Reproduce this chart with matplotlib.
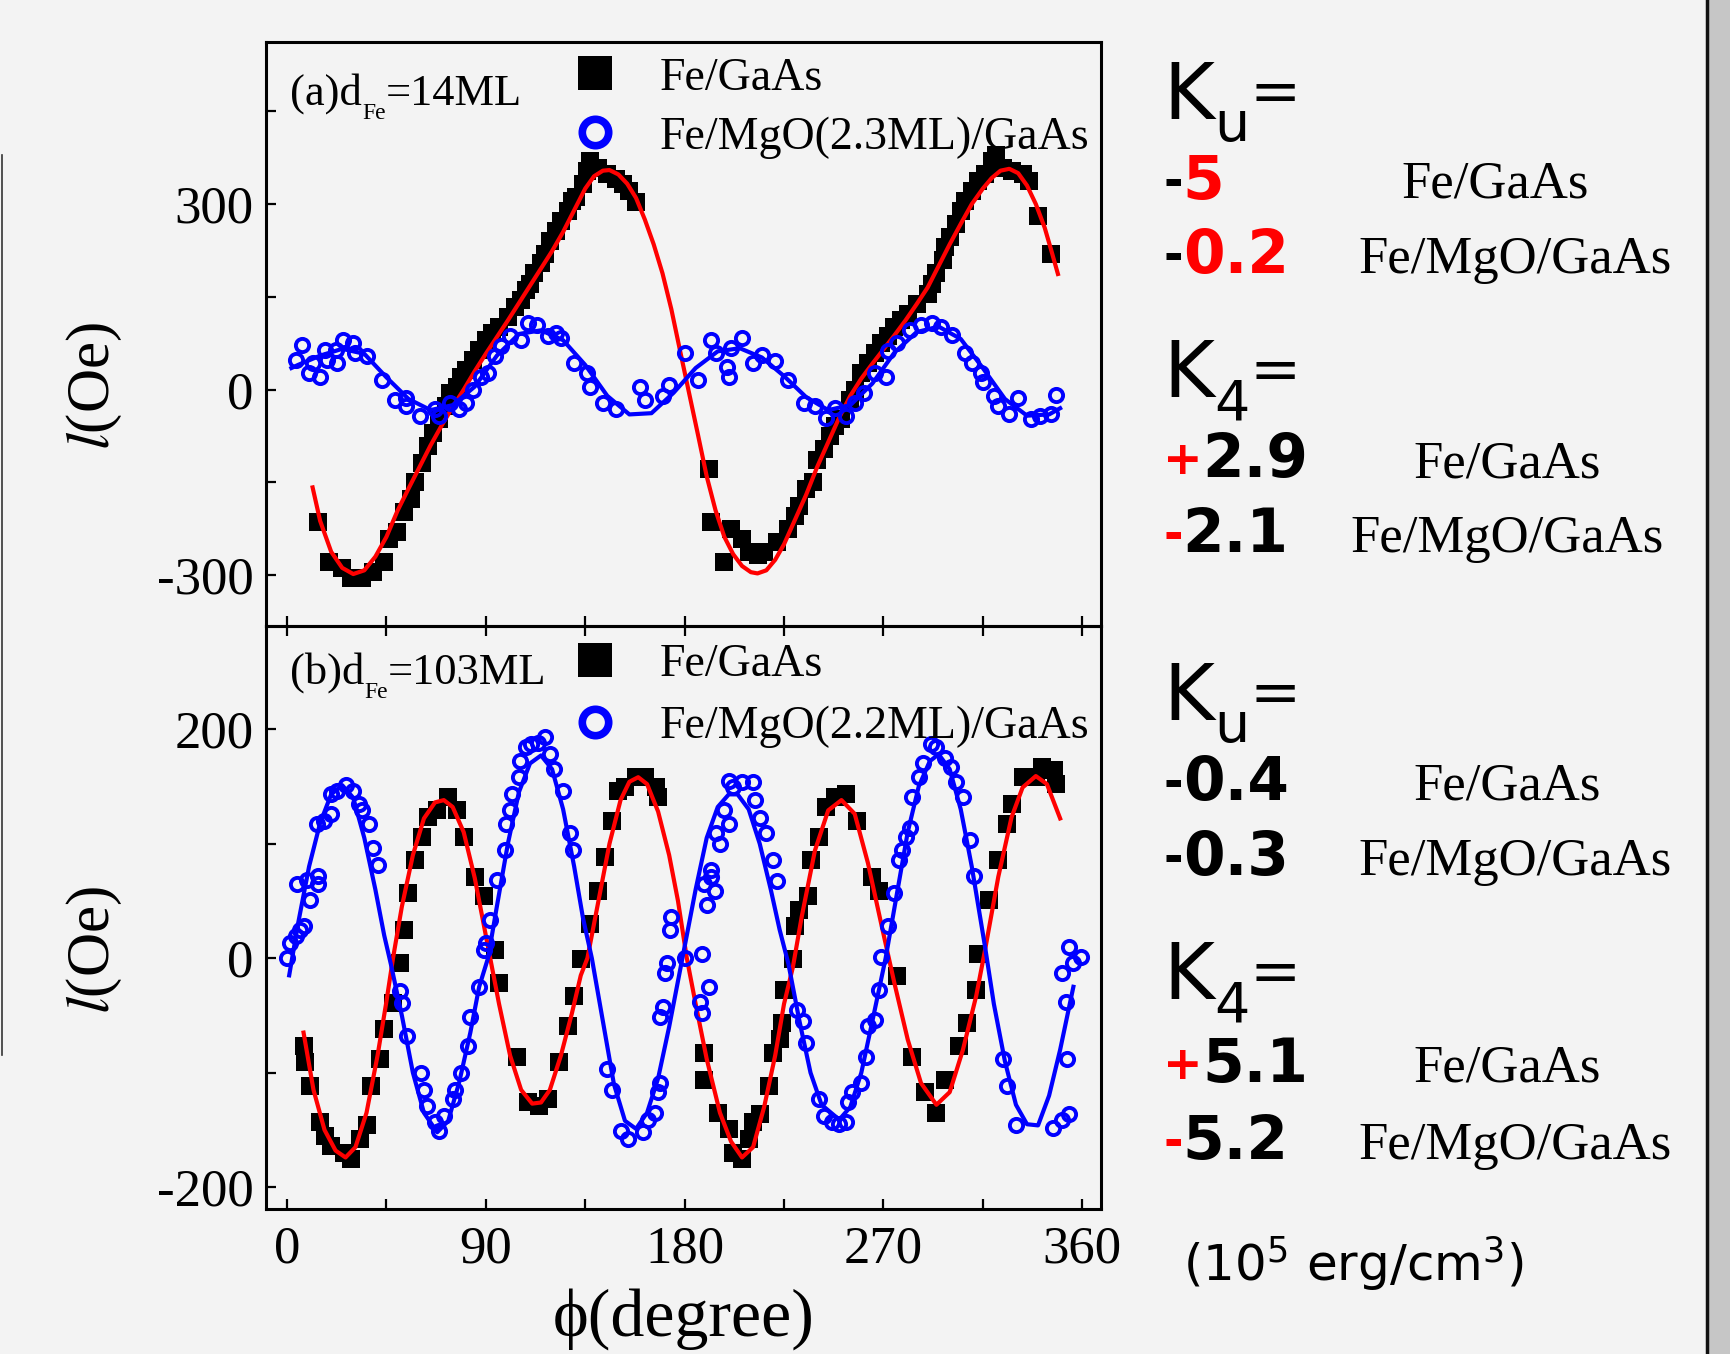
import numpy as np
import matplotlib
matplotlib.use("Agg")
import matplotlib.pyplot as plt
from matplotlib.lines import Line2D
from matplotlib.patches import Rectangle
from matplotlib.ticker import MultipleLocator

W, H = 1731, 1354
plt.rcParams['mathtext.fontset'] = 'stix'
plt.rcParams['axes.unicode_minus'] = False
SERIF = 'Liberation Serif'
SANS = 'DejaVu Sans'
RED = '#ff0000'
BLUE = '#0000ff'

# ---------------- panel (a) data ----------------
a_fe_deg = [14, 19, 25, 29, 34, 39, 44, 46, 50, 53, 56, 58, 61, 64, 66, 69, 72, 74, 77, 79, 81, 84, 87, 90,
            93, 96, 100, 103, 106, 108, 110, 112, 115, 117, 119, 122, 124, 127, 129, 131, 134, 136, 137, 141,
            145, 149, 152, 155, 158,
            191, 192, 198, 201, 206, 209, 213, 216, 222, 227, 230, 232, 235, 238, 240, 243, 246, 248, 251, 255,
            257, 260, 263, 266, 269, 272, 275, 278, 281, 285, 290, 292, 294, 297, 298, 300, 303, 305, 307, 310,
            313, 316, 319, 321, 324, 328, 333, 336, 340, 346]
a_fe_val = [-214, -279, -289, -305, -305, -295, -279, -241, -230, -198, -177, -150, -118, -91, -70, -48, -27, -5,
            5, 21, 32, 48, 64, 80, 91, 102, 118, 134, 145, 161, 171, 188, 204, 220, 241, 257, 273, 289, 305, 311,
            332, 354, 370, 359, 348, 340, 332, 321, 303,
            -129, -214, -279, -225, -241, -262, -268, -262, -246, -225, -204, -188, -161, -150, -113, -96, -75,
            -59, -48, -16, 0, 27, 43, 59, 75, 86, 102, 113, 123, 139, 155, 171, 188, 209, 230, 246, 268, 289,
            305, 321, 337, 348, 370, 380, 359, 354, 348, 337, 281, 220]

a_mgo_deg = [4, 7, 10, 15, 12, 17, 18, 22, 22.5, 25.5, 30, 31, 36, 43, 49, 54, 54, 60, 67, 69, 74, 78, 81, 84,
             88, 91, 94, 97, 101, 106, 109, 113, 118, 122, 124, 130, 136, 137, 143, 149, 160, 162, 170, 173,
             180, 186, 192, 194, 199, 200, 201, 206, 211, 215, 221, 227, 234, 239, 244, 248, 253, 257, 261,
             266, 271, 272, 276, 282, 287, 292, 296, 301, 307, 310, 314, 315, 320, 322, 327, 331, 337, 341,
             346, 348]
a_mgo_val = [48, 72, 27, 21, 43, 64, 48, 64, 43, 80, 75, 59, 54, 16, -16, -13, -27, -43, -32, -43, -21, -32,
             -21, 0, 21, 27, 54, 70, 86, 80, 107, 104, 86, 91, 83, 43, 27, 5, -21, -32, 5, -16, -11, 8,
             59, 16, 80, 59, 37, 21, 67, 83, 43, 56, 46, 16, -21, -27, -46, -29, -43, -21, -5,
             27, 21, 62, 75, 96, 104, 107, 102, 88, 59, 43, 27, 13, -11, -27, -40, -13, -48, -43,
             -40, -8]

a_fe_fit_deg = [11.6, 15, 20, 25, 30, 35, 40, 45, 50, 55, 60, 65, 70, 75, 80, 85, 90, 95, 100, 105, 110, 115,
                120, 125, 130, 135, 139, 143, 146, 150, 154, 158, 162, 166, 170, 174, 178, 182, 186, 190,
                194, 198, 202, 206, 210, 213, 217, 221, 225, 230, 235, 240, 245, 250, 255, 260, 265, 270,
                275, 280, 285, 290, 295, 300, 305, 310, 315, 319, 323, 327, 331, 335, 339, 343, 346, 349]
a_fe_fit_val = [-158, -212, -262, -288, -298, -292, -270, -238, -196, -160, -125, -90, -58, -28, 0, 30, 58, 85,
                112, 140, 168, 196, 224, 255, 290, 325, 345, 354, 355, 348, 333, 310, 275, 235, 188, 130, 62,
                -5, -72, -140, -195, -238, -266, -285, -295, -297, -292, -275, -250, -210, -170, -125, -85,
                -45, -10, 18, 42, 65, 88, 112, 138, 165, 200, 235, 268, 300, 325, 342, 354, 357, 350, 330,
                300, 262, 225, 187]

a_mgo_fit_deg = [2, 5, 15, 25, 35, 45, 55, 65, 75, 85, 95, 105, 115, 125, 135, 145, 155, 165, 175, 185, 195,
                 205, 215, 225, 235, 245, 255, 265, 275, 285, 295, 305, 315, 325, 335, 345, 350]
a_mgo_fit_val = [35, 40, 55, 66, 58, 20, -15, -33, -25, 5, 55, 90, 96, 80, 40, -10, -40, -38, -5, 35, 62, 67,
                 52, 22, -12, -33, -25, 10, 60, 93, 102, 82, 35, -15, -42, -40, -30]

# ---------------- panel (b) data ----------------
b_fe_deg = [7.6, 8.3, 10.6, 15, 17, 20, 26, 29, 33, 36, 38, 42, 44, 48, 51, 53, 55, 58, 61, 64, 68, 73, 77, 80,
            85, 89, 94, 96, 104, 109, 114, 118, 123, 127, 130, 133, 137, 141, 144, 147, 150, 153, 158, 162,
            167, 168,
            189, 189, 195, 200, 202, 206, 209, 211, 214, 218, 220, 223, 224, 225, 229, 230, 232, 236, 237,
            241, 244, 248, 253, 258, 265, 268, 276, 283, 289, 294, 298, 304, 308, 312, 313, 318, 322, 326,
            328, 333, 339, 342, 347, 348]
b_fe_val = [-77, -91, -112, -143, -155, -164, -170, -175, -158, -146, -112, -88, -62, -39, -4, 25, 57, 86, 106,
            123, 129, 141, 129, 106, 71, 54, 7, -22, -86, -126, -129, -123, -91, -59, -33, -1, 30, 59, 88,
            120, 146, 149, 158, 158, 149, 141,
            -83, -106, -135, -149, -170, -175, -158, -143, -136, -112, -83, -71, -57, -28, -1, 28, 42, 54,
            86, 106, 132, 141, 143, 120, 71, 59, -16, -86, -117, -135, -106, -77, -57, -28, 4, 51, 86, 117,
            135, 158, 158, 167, 164, 152]

b_mgo_deg = [0, 1.5, 4, 6, 7.6, 4.5, 9, 14, 10.6, 14, 13.6, 16.7, 20, 20, 22.7, 26.5, 30, 32.6, 34, 37, 39,
             41, 51, 52, 54.5, 60.6, 62, 63.6, 67, 69, 71, 75, 76, 79, 82, 83, 87, 89, 90, 92, 95, 98.5, 99,
             100.8, 102, 105, 105.6, 108, 110.6, 113.6, 117, 119, 121, 125, 128, 129.5, 145, 147, 151, 154.5,
             161, 163.6, 166.7, 168, 169, 169, 170, 171, 172, 173.5, 174, 180,
             188, 191, 187, 188, 190, 193.6, 192, 189, 192, 194, 196, 198, 200, 200, 202, 206, 211, 212, 214,
             217, 220, 221.7, 230.8, 233.8, 235, 241, 243, 246.7, 250, 253, 254, 256, 260, 262, 263, 266,
             268, 269, 272, 275, 277, 278.5, 280, 282, 283, 286, 288, 291.5, 294, 298, 300.5, 303, 306, 309,
             311, 324, 326, 330, 346.7, 351, 354, 353, 352.7, 351, 356, 354, 359.5]
b_mgo_val = [0, 13, 19, 25, 28, 65, 68, 65, 51, 72, 117, 120, 126, 143, 146, 151, 146, 135, 129, 117, 96, 81,
             -29, -39, -68, -100, -115, -129, -143, -151, -138, -123, -115, -100, -77, -51, -25, 7, 13, 33,
             68, 94, 117, 129, 143, 158, 172, 184, 187, 188, 193, 178, 165, 146, 109, 94, -97, -115, -151,
             -158, -152, -141, -135, -117, -109, -51, -43, -13, -4, 25, 36, 0,
             4, -25, -38, -48, 46, 59, 71, 65, 77, 109, 100, 129, 117, 155, 149, 154, 154, 138, 122, 109,
             86, 67, -45, -55, -74, -123, -138, -143, -145, -143, -126, -117, -109, -86, -59, -54, -28, 1,
             28, 57, 86, 94, 106, 114, 141, 158, 170, 187, 184, 175, 167, 154, 141, 103, 72, -88, -112,
             -146, -148, -141, -136, -88, -38, -13, -4, 10, 1]

b_fe_fit_deg = [7.5, 12, 17, 22, 26.5, 31, 36, 41, 45, 48, 52, 57, 62, 67, 71, 75, 80, 85, 89, 92, 96, 101,
                106, 111, 115, 119, 124, 129, 133, 136, 141, 146, 151, 155, 159, 163, 168, 173, 177, 181,
                185, 190, 196, 201, 206, 211, 216, 221, 225, 229, 233, 239, 245, 251, 257, 263, 269, 275,
                281, 287, 294, 300, 306, 312, 316, 322, 328, 333, 339, 344, 350]
b_fe_fit_val = [-65, -115, -150, -168, -174, -165, -135, -85, -38, 0, 45, 90, 122, 136, 138, 132, 110, 70, 30,
                0, -40, -85, -115, -127, -126, -115, -85, -48, -15, 0, 50, 100, 138, 154, 158, 152, 128, 90,
                50, 0, -40, -88, -135, -160, -174, -165, -130, -85, -40, -8, 36, 94, 129, 138, 126, 83, 30,
                -22, -71, -109, -128, -117, -80, -33, 7, 71, 123, 149, 159, 152, 122]

b_mgo_fit_deg = [1, 5, 10, 15, 20, 25, 30, 35, 40, 44, 47, 52, 57, 62, 68, 73, 78, 83, 87, 91, 95, 100, 105,
                 110, 115, 120, 125, 130, 134, 138, 143, 148, 153, 158, 163, 168, 173, 179, 185, 190, 195, 200,
                 204, 209, 214, 219, 223, 227, 232, 237, 242, 250, 255, 260, 265, 271, 276, 281, 286, 291,
                 295, 300, 305, 310, 316, 320, 325, 330, 335, 340, 345, 350, 356]
b_mgo_fit_val = [-15, 30, 80, 118, 143, 151, 140, 105, 60, 20, -5, -50, -100, -135, -152, -142, -108, -65,
                 -25, 0, 45, 100, 145, 170, 177, 165, 130, 80, 35, 0, -55, -110, -142, -149, -135, -105, -60,
                 0, 60, 105, 132, 143, 143, 130, 100, 60, 25, -5, -55, -100, -128, -141, -130, -100, -55, 0,
                 55, 110, 150, 172, 178, 165, 130, 80, 10, -40, -90, -128, -145, -146, -120, -80, -25]

x_ticks = [0, 90, 180, 270, 360]
a_yticks = [-300, 0, 300]
b_yticks = [-200, 0, 200]

legend_a = ['Fe/GaAs', 'Fe/MgO(2.3ML)/GaAs']
legend_b = ['Fe/GaAs', 'Fe/MgO(2.2ML)/GaAs']

# ---------------- figure ----------------
fig = plt.figure(figsize=(W / 100, H / 100), dpi=100)
fig.patch.set_facecolor('#f3f3f3')

fig.add_artist(Rectangle((1709 / W, 0), 1 - 1709 / W, 1, transform=fig.transFigure,
                         facecolor='#c6c6c6', edgecolor='none', zorder=0))
fig.add_artist(Line2D([1707 / W, 1707 / W], [0, 1], transform=fig.transFigure, color='#111111', lw=2.5))
fig.add_artist(Line2D([2 / W, 2 / W], [1 - 155 / H, 1 - 1055 / H], transform=fig.transFigure,
                      color='#333333', lw=1.2))


def px2fig(x, y):
    return x / W, 1 - y / H


axa = fig.add_axes([266 / W, 1 - 626 / H, 835 / W, 584 / H])
axb = fig.add_axes([266 / W, 1 - 1209 / H, 835 / W, 583 / H])

for ax in (axa, axb):
    ax.set_facecolor('none')
    for sp in ax.spines.values():
        sp.set_linewidth(2.2)
        sp.set_color('black')
    ax.set_xlim(-9.5, 368.5)
    ax.xaxis.set_major_locator(MultipleLocator(90))
    ax.xaxis.set_minor_locator(MultipleLocator(45))
    ax.tick_params(which='both', direction='in', length=7, width=1.6, colors='black')
    ax.tick_params(axis='y', which='both', left=True, right=False)

axa.set_ylim(-382, 562)
axa.set_yticks(a_yticks)
axa.yaxis.set_minor_locator(MultipleLocator(150))
axa.tick_params(axis='x', which='both', bottom=True, top=False, labelbottom=False)
axa.tick_params(axis='y', labelsize=38, pad=9)

axb.set_ylim(-219, 290)
axb.set_yticks(b_yticks)
axb.yaxis.set_minor_locator(MultipleLocator(100))
axb.set_xticks(x_ticks)
axb.tick_params(axis='x', which='both', bottom=True, top=True)
axb.tick_params(axis='x', labelsize=38, pad=12)
axb.tick_params(axis='y', labelsize=38, pad=9)

for ax in (axa, axb):
    for lab in ax.get_yticklabels() + ax.get_xticklabels():
        lab.set_family(SERIF)

sq_kw = dict(marker='s', ms=13, color='black', ls='none', mew=0)
ci_kw = dict(marker='o', ms=9.5, mfc='none', mec=BLUE, mew=2.8, ls='none')

axa.plot(a_fe_deg, a_fe_val, zorder=2, **sq_kw)
axa.plot(a_fe_fit_deg, a_fe_fit_val, color=RED, lw=3, zorder=3)
axa.plot(a_mgo_deg, a_mgo_val, zorder=4, **ci_kw)
axa.plot(a_mgo_fit_deg, a_mgo_fit_val, color=BLUE, lw=3, zorder=5)

axb.plot(b_fe_deg, b_fe_val, zorder=2, **sq_kw)
axb.plot(b_fe_fit_deg, b_fe_fit_val, color=RED, lw=3, zorder=3)
axb.plot(b_mgo_deg, b_mgo_val, zorder=4, **ci_kw)
axb.plot(b_mgo_fit_deg, b_mgo_fit_val, color=BLUE, lw=3, zorder=5)

h_sq = Line2D([], [], marker='s', ms=25, color='black', ls='none', mew=0)
h_ci = Line2D([], [], marker='o', ms=19, mfc='none', mec=BLUE, mew=5.5, ls='none')
for ax, labels, top, ls in ((axa, legend_a, 0.99, 0.36), (axb, legend_b, 0.986, 0.42)):
    ax.legend([h_sq, h_ci], labels, loc='upper left', bbox_to_anchor=(0.355, top),
              frameon=False, borderpad=0, borderaxespad=0.2, handlelength=1.0,
              handletextpad=0.92, labelspacing=ls, prop={'family': SERIF, 'size': 33})

# axis labels
for yc in (386, 950):
    fig.text(*px2fig(94, yc), r'$\mathit{l}$(Oe)', rotation=90, ha='center', va='center',
             family=SERIF, fontsize=44)
fig.text(*px2fig(684, 1319), '\u03d5(degree)', ha='center', va='center',
         family=[SERIF, 'DejaVu Serif'], fontsize=49)

renderer = fig.canvas.get_renderer()


def pieces(x, y, items, family=SANS):
    cur = x
    for s, color, size, weight, dy in items:
        t = fig.text(cur / W, 1 - (y + dy) / H, s, color=color, fontsize=size, fontweight=weight,
                     family=family, ha='left', va='baseline')
        bb = t.get_window_extent(renderer)
        cur += bb.width


# panel labels
pieces(290, 105, [('(a)d', 'black', 32, 'normal', 0), ('Fe', 'black', 17, 'normal', 14),
                  ('=14ML', 'black', 32, 'normal', 0)], family=SERIF)
pieces(290, 684, [('(b)d', 'black', 32, 'normal', 0), ('Fe', 'black', 17, 'normal', 14),
                  ('=103ML', 'black', 32, 'normal', 0)], family=SERIF)


def kline(y, sub):
    pieces(1163, y, [('K', 'black', 56, 'normal', 0), (sub, 'black', 40, 'normal', 22),
                     ('=', 'black', 44, 'normal', -8)])


def numline(y, items):
    out = []
    for s, c in items:
        if s in ('+', '-'):
            out.append((s, c, 34, 'bold', -3))
        else:
            out.append((s, c, 43, 'bold', 0))
    pieces(1163, y, out)


def matlabel(xc, y, s):
    fig.text(xc / W, 1 - y / H, s, family=SERIF, fontsize=38, ha='center', va='baseline')


kline(119, 'u')
numline(199, [('-', 'black'), ('5', RED)])
matlabel(1495, 197, 'Fe/GaAs')
numline(273, [('-', 'black'), ('0.2', RED)])
matlabel(1515, 273, 'Fe/MgO/GaAs')
kline(397, '4')
numline(477, [('+', RED), ('2.9', 'black')])
matlabel(1507, 477, 'Fe/GaAs')
numline(552, [('-', RED), ('2.1', 'black')])
matlabel(1507, 552, 'Fe/MgO/GaAs')

kline(720, 'u')
numline(800, [('-', 'black'), ('0.4', 'black')])
matlabel(1507, 800, 'Fe/GaAs')
numline(875, [('-', 'black'), ('0.3', 'black')])
matlabel(1515, 875, 'Fe/MgO/GaAs')
kline(999, '4')
numline(1082, [('+', RED), ('5.1', 'black')])
matlabel(1507, 1082, 'Fe/GaAs')
numline(1159, [('-', RED), ('5.2', 'black')])
matlabel(1515, 1159, 'Fe/MgO/GaAs')

fig.text(1183 / W, 1 - 1281 / H, r'(10$^5$ erg/cm$^3$)', family=SANS, math_fontfamily='dejavusans',
         fontsize=36, ha='left', va='baseline')

fig.savefig('out.png', dpi=100, facecolor=fig.get_facecolor())
